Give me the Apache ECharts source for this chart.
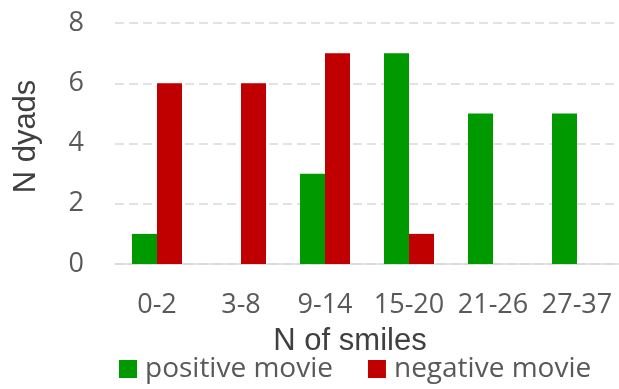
<!DOCTYPE html>
<html>
<head>
<meta charset="utf-8">
<script src="https://cdn.jsdelivr.net/npm/echarts@6/dist/echarts.min.js"></script>
<style>
  html, body { margin: 0; padding: 0; background: #fff; }
  #chart { width: 619px; height: 389px; }
</style>
</head>
<body>
<div id="chart"></div>
<script>
// Smile-count bins and number of dyads per movie condition
const categories = ['0-2', '3-8', '9-14', '15-20', '21-26', '27-37'];
const positiveMovie = [1, 0, 3, 7, 5, 5];
const negativeMovie = [6, 6, 7, 1, 0, 0];
const yTicks = [0, 2, 4, 6, 8];

const tickFont = { fontFamily: 'Open Sans', fontSize: 27, color: '#595959' };
const nameFont = { fontFamily: 'Liberation Sans', fontSize: 31, color: '#404040' };

const chart = echarts.init(document.getElementById('chart'), null, { renderer: 'canvas' });
chart.setOption({
  animation: false,
  grid: { left: 115, right: 0, top: 23, bottom: 125 },
  legend: {
    left: 119, top: 355, padding: 0,
    itemWidth: 18, itemHeight: 18, itemGap: 35,
    icon: 'rect',
    textStyle: { fontFamily: 'Open Sans', fontSize: 28, color: '#595959', padding: [0, 0, 0, 3] },
    data: ['positive movie', 'negative movie']
  },
  xAxis: {
    type: 'category',
    data: categories,
    name: 'N of smiles',
    nameLocation: 'middle',
    nameGap: 62,
    nameTextStyle: Object.assign({ padding: [0, 34, 0, 0] }, nameFont),
    axisLine: { lineStyle: { color: '#d9d9d9', width: 1.5 } },
    axisTick: { show: false },
    axisLabel: Object.assign({ margin: 28, interval: 0 }, tickFont)
  },
  yAxis: {
    type: 'value',
    min: yTicks[0], max: yTicks[yTicks.length - 1], interval: 2,
    name: 'N dyads',
    nameLocation: 'middle',
    nameGap: 73,
    nameRotate: 90,
    nameTextStyle: Object.assign({ padding: [0, 0, 0, 14] }, nameFont),
    axisLine: { show: false },
    axisTick: { show: false },
    axisLabel: Object.assign({ margin: 31 }, tickFont),
    splitLine: { lineStyle: { color: '#d9d9d9', width: 1.5, type: [9, 5] } }
  },
  series: [
    {
      name: 'positive movie', type: 'bar', data: positiveMovie,
      barWidth: 25, barGap: '0%',
      itemStyle: { color: '#009900' }
    },
    {
      name: 'negative movie', type: 'bar', data: negativeMovie,
      barWidth: 25, barGap: '0%',
      itemStyle: { color: '#c00000' }
    }
  ]
});
</script>
</body>
</html>
